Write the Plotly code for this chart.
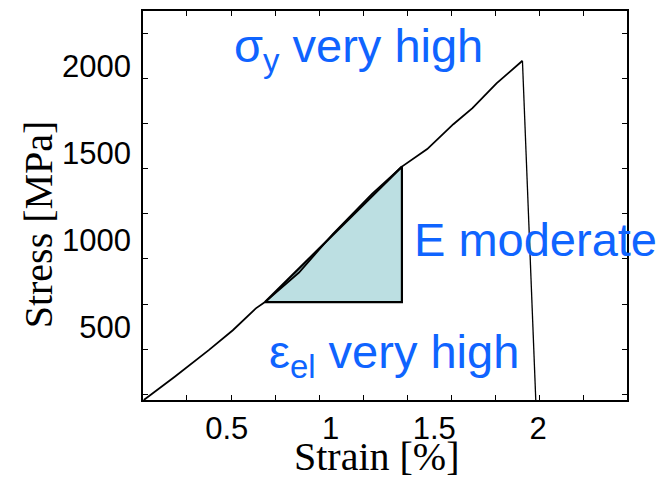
import plotly.graph_objects as go

# Stress-strain curve (strain %, stress MPa)
strain = [0.100, 0.249, 0.413, 0.529, 0.640, 0.684, 0.848, 1.012, 1.200, 1.344,
          1.466, 1.592, 1.684, 1.800, 1.925, 1.990]
stress = [82, 216, 369, 483, 609, 645, 815, 1038, 1267, 1424,
          1525, 1668, 1760, 1903, 2033, 60]

# Modulus triangle
tri_strain = [0.684, 1.344, 1.344, 0.684]
tri_stress = [645, 645, 1424, 645]

x_tickvals = [0.5, 1, 1.5, 2]
x_ticktext = ["0.5", "1", "1.5", "2"]
y_tickvals = [500, 1000, 1500, 2000]
y_ticktext = ["500", "1000", "1500", "2000"]

BLUE = "#0f64ff"
SANS = "Liberation Sans, Arial"
SERIF = "Liberation Serif, Times New Roman"

fig = go.Figure()
fig.add_trace(go.Scatter(x=tri_strain, y=tri_stress, mode="lines", fill="toself",
                         fillcolor="#bcdfe2", line=dict(color="black", width=2.2),
                         hoverinfo="skip", showlegend=False))
fig.add_trace(go.Scatter(x=strain[:-1], y=stress[:-1], mode="lines",
                         line=dict(color="black", width=1.8), showlegend=False))
fig.add_trace(go.Scatter(x=strain[-2:], y=stress[-2:], mode="lines",
                         line=dict(color="black", width=1.3), showlegend=False))

annots = [
    ("σ<sub>y</sub> very high", 1.133, 2100),
    ("E moderate", 1.99, 1007),
    ("ε<sub>el</sub> very high", 1.307, 343),
]
for text, x, y in annots:
    fig.add_annotation(x=x, y=y, xref="x", yref="y", text=text, showarrow=False,
                       font=dict(family=SANS, size=47, color=BLUE),
                       xanchor="center", yanchor="middle")

# Axis titles
fig.add_annotation(x=0.4845, y=-0.146, xref="paper", yref="paper", text="Strain [%]",
                   showarrow=False, xanchor="center", yanchor="middle", borderpad=0,
                   font=dict(family=SERIF, size=40, color="black"))
fig.add_annotation(x=-0.216, y=0.4527, xref="paper", yref="paper", text="Stress [MPa]",
                   showarrow=False, xanchor="center", yanchor="middle", textangle=-90,
                   borderpad=0, font=dict(family=SERIF, size=40, color="black"))

fig.update_layout(
    width=669, height=479,
    margin=dict(l=143, r=42, t=9, b=79),
    paper_bgcolor="white", plot_bgcolor="white",
    xaxis=dict(range=[0.096, 2.429], tickmode="array", tickvals=x_tickvals, ticktext=x_ticktext,
               ticks="", showgrid=False, zeroline=False, showline=True, linecolor="black",
               linewidth=1.5, mirror="allticks", ticklabelstandoff=0,
               tickfont=dict(family=SANS, size=31, color="black"),
               minor=dict(tickmode="linear", tick0=0.308, dtick=0.2126, ticks="inside",
                          ticklen=5, tickcolor="black", tickwidth=1.2, showgrid=False)),
    yaxis=dict(range=[82, 2319], tickmode="array", tickvals=y_tickvals, ticktext=y_ticktext,
               ticks="", showgrid=False, zeroline=False, showline=True, linecolor="black",
               linewidth=1.5, mirror="allticks", ticklabelstandoff=4,
               tickfont=dict(family=SANS, size=31, color="black"),
               minor=dict(tickmode="linear", tick0=115, dtick=259.3, ticks="inside",
                          ticklen=5, tickcolor="black", tickwidth=1.2, showgrid=False)),
)

fig.write_html("out.html")
